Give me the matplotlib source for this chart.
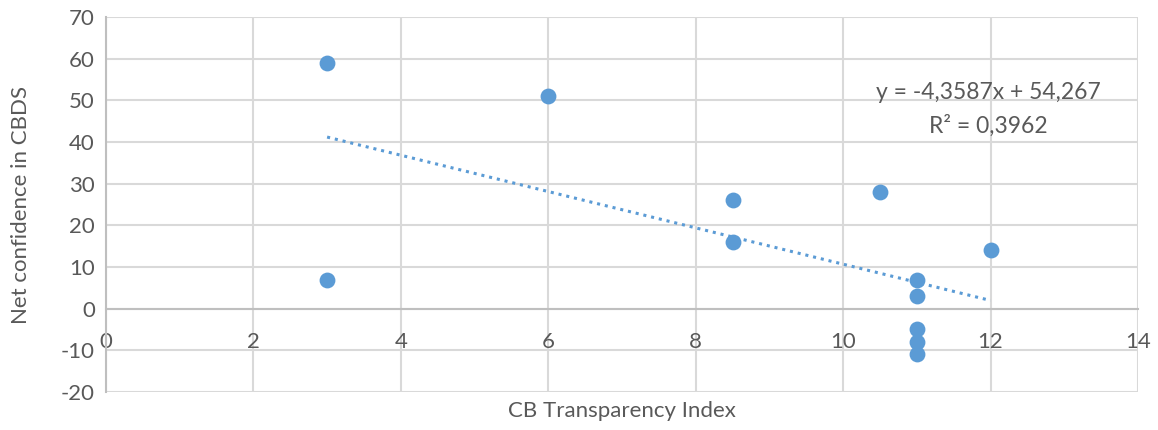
import numpy as np
import matplotlib.pyplot as plt

# Data
transparency = [3, 3, 6, 8.5, 8.5, 10.5, 12, 11, 11, 11, 11, 11]
confidence = [59, 7, 51, 26, 16, 28, 14, 7, 3, -5, -8, -11]

x_ticks = [0, 2, 4, 6, 8, 10, 12, 14]
y_ticks = [-20, -10, 0, 10, 20, 30, 40, 50, 60, 70]

blue = "#5B9BD5"
grid_col = "#D9D9D9"
axis_col = "#BFBFBF"
text_col = "#595959"

plt.rcParams["font.family"] = ["Lato", "DejaVu Sans"]
plt.rcParams["axes.unicode_minus"] = False

fig = plt.figure(figsize=(11.58, 4.30), dpi=100)
ax = fig.add_axes([0.0915, 0.0884, 0.8912, 0.872])

ax.set_xlim(0, 14)
ax.set_ylim(-20, 70)
ax.set_xticks(x_ticks)
ax.set_yticks(y_ticks)
ax.grid(True, color=grid_col, linewidth=1.5)
ax.set_axisbelow(True)

for s in ["top", "right"]:
    ax.spines[s].set_visible(False)
ax.spines["left"].set_color(axis_col)
ax.spines["left"].set_linewidth(1.5)
ax.spines["bottom"].set_position(("data", 0))
ax.spines["bottom"].set_color(axis_col)
ax.spines["bottom"].set_linewidth(1.5)

ax.tick_params(axis="both", length=0, labelsize=16, labelcolor=text_col)
ax.tick_params(axis="x", pad=17)
ax.tick_params(axis="y", pad=8)

# linear trendline
xs = np.array(transparency, dtype=float)
ys = np.array(confidence, dtype=float)
slope, intercept = np.polyfit(xs, ys, 1)
pred = slope * xs + intercept
r2 = 1 - np.sum((ys - pred) ** 2) / np.sum((ys - ys.mean()) ** 2)
xl = np.array([xs.min(), xs.max()])
ax.plot(xl, slope * xl + intercept, color=blue, linewidth=2.2,
        linestyle=(0, (1, 1.6)), zorder=2)

ax.scatter(transparency, confidence, s=130, color=blue, zorder=3, linewidths=0)

eq = "y = {:.4f}x + {:.3f}".format(slope, intercept).replace(".", ",")
r2_txt = "R² = {:.4f}".format(r2).replace(".", ",")
ax.text(11.97, 52, eq, ha="center", va="center", fontsize=16.5, color=text_col)
ax.text(11.97, 44, r2_txt, ha="center", va="center", fontsize=16.5, color=text_col)

ax.set_xlabel("CB Transparency Index", fontsize=16, color=text_col)
ax.set_ylabel("Net confidence in CBDS", fontsize=16, color=text_col)
ax.xaxis.set_label_coords(0.5, -0.025)
ax.yaxis.set_label_coords(-0.073, 0.5)

fig.savefig("out.png", dpi=100)
